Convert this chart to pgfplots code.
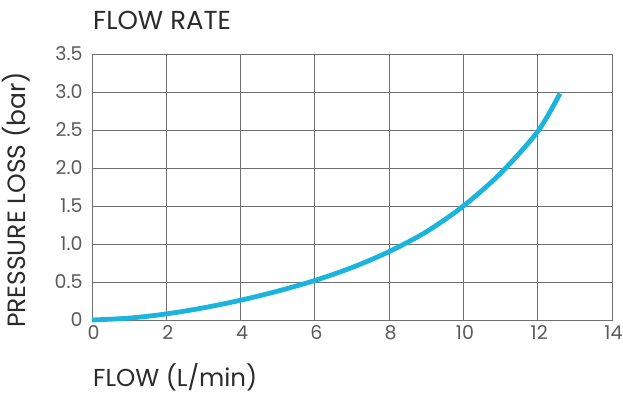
\documentclass[border=0pt]{standalone}
\usepackage{fontspec}
\setmainfont{Poppins}
\usepackage{pgfplots}
\pgfplotsset{compat=1.18}
\definecolor{curve}{HTML}{1AB4DC}
\definecolor{gridc}{HTML}{707070}
\definecolor{txt}{HTML}{2B2B2B}
\definecolor{tickc}{HTML}{5A5A5A}
\begin{document}
\begin{tikzpicture}
\path[use as bounding box] (-92pt,-74pt) rectangle (531pt,320pt);
\begin{axis}[
  at={(0pt,0pt)}, anchor=south west,
  scale only axis, width=520pt, height=266pt,
  xmin=0, xmax=14, ymin=0, ymax=3.5,
  xtick={0,2,4,6,8,10,12,14},
  xticklabels={0,2,4,6,8,10,12,14},
  ytick={0,0.5,1,1.5,2,2.5,3,3.5},
  yticklabels={0,0.5,1.0,1.5,2.0,2.5,3.0,3.5},
  grid=major,
  major grid style={gridc, line width=0.9pt},
  axis line style={gridc, line width=0.9pt},
  major tick length=0pt,
  tick label style={font=\fontsize{19}{21}\selectfont, text=tickc},
  xticklabel style={yshift=-2pt, xshift=1.5pt},
  yticklabel style={xshift=-6pt},
  clip=false,
]
\addplot[curve, line width=4.8pt, smooth, tension=0.5, line cap=butt] coordinates {
  (0,0) (1,0.025) (2,0.08) (3,0.16) (4,0.26) (5,0.38) (6,0.52)
  (7,0.69) (8,0.90) (9,1.16) (10,1.50) (11,1.93) (12,2.48) (12.6,2.98)
};
\end{axis}
\node[anchor=base west, text=txt, font=\fontsize{26}{28}\selectfont, inner sep=0pt] at (1pt,290pt) {FLOW RATE};
\node[anchor=center, rotate=90, text=txt, font=\fontsize{25}{27}\selectfont, inner sep=0pt] at (-76pt,120pt) {PRESSURE LOSS (bar)};
\node[anchor=base west, text=txt, font=\fontsize{24.5}{27}\selectfont, inner sep=0pt] at (1pt,-66pt) {FLOW (L/min)};
\end{tikzpicture}
\end{document}
